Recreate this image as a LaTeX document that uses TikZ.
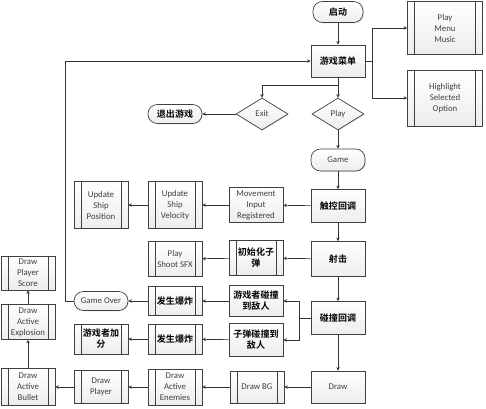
\documentclass[tikz,border=0pt]{standalone}
\usepackage{fontspec}
\setmainfont{Carlito}
\newfontfamily\cjk{Noto Sans CJK SC}[BoldFont={Noto Sans CJK SC Bold}]
\usetikzlibrary{shapes.geometric,arrows.meta,shadows}

\begin{document}
\begin{tikzpicture}[x=0.3mm,y=-0.3mm,
    font=\fontsize{7.5}{9.4}\selectfont,
    base/.style={draw=black!75,line width=0.6pt,top color=white,bottom color=gray!14,
      text=black!75,align=center,inner sep=1pt,minimum width=16.2mm,
      drop shadow={shadow xshift=0.7pt,shadow yshift=-0.7pt,fill=gray!45}},
    proc/.style={base,rectangle,minimum height=9.9mm},
    sub/.style={base,rectangle,minimum height=10.5mm,
      path picture={\draw[black!75,line width=0.6pt]
        ([xshift=2.1mm]path picture bounding box.north west) -- ([xshift=2.1mm]path picture bounding box.south west)
        ([xshift=-2.1mm]path picture bounding box.north east) -- ([xshift=-2.1mm]path picture bounding box.south east);}},
    term/.style={base,rectangle,rounded corners=2.8mm,minimum height=6.3mm},
    choice/.style={base,diamond,inner sep=0pt,minimum width=15.6mm,minimum height=9.6mm},
    cn/.style={font=\fontsize{7.7}{9.4}\selectfont\cjk\bfseries,text=black},
    arr/.style={draw=black!80,line width=0.6pt,-{Stealth[length=3pt,width=3pt]}}]
    \useasboundingbox (0,0) rectangle (486,408);

    \node[term,cn,minimum width=15mm] (start) at (338,12) {启动};
    \node[proc,cn,minimum height=9.6mm] (menu) at (338,61) {游戏菜单};
    \node[sub,minimum width=22.5mm,minimum height=15.9mm] (music) at (445,28) {Play\\Menu\\Music};
    \node[sub,minimum width=22.5mm,minimum height=16.8mm] (light) at (445,98) {Highlight\\Selected\\Option};
    \node[choice] (exit) at (262,114) {Exit};
    \node[choice] (play) at (338,114) {Play};
    \node[term,cn,minimum height=5.7mm] (quit) at (175,114) {退出游戏};
    \node[term,minimum height=6.6mm] (game) at (338,160) {Game};

    \node[proc,cn] (touch) at (338,206) {触控回调};
    \node[proc,minimum height=10.5mm] (move) at (256,205) {Movement\\Input\\Registered};
    \node[sub,minimum height=14.1mm] (velocity) at (175,205) {Update\\Ship\\Velocity};
    \node[sub,minimum height=14.1mm] (position) at (101,205) {Update\\Ship\\Position};

    \node[proc,cn,minimum height=10.5mm] (shoot) at (338,259) {射击};
    \node[sub,cn] (initbullet) at (256,258) {初始化子\\弹};
    \node[sub] (sfx) at (175,259) {Play\\Shoot SFX};

    \node[proc,cn] (collide) at (338,318) {碰撞回调};
    \node[proc,cn,minimum height=9.3mm] (hitplayer) at (256,301) {游戏者碰撞\\到敌人};
    \node[proc,cn] (hitenemy) at (256,340) {子弹碰撞到\\敌人};
    \node[sub,cn,minimum height=8.7mm] (boomA) at (175,301) {发生爆炸};
    \node[term,minimum height=5.7mm] (over) at (101,301) {Game Over};
    \node[sub,cn,minimum height=9mm] (boomB) at (175,339) {发生爆炸};
    \node[sub,cn,minimum height=9mm] (points) at (101,339) {游戏者加\\分};

    \node[proc,minimum height=9.6mm] (drawall) at (338,387) {Draw};
    \node[sub,minimum height=9.6mm] (bg) at (257,387) {Draw BG};
    \node[sub,minimum height=10.8mm] (enemies) at (175,387) {Draw\\Active\\Enemies};
    \node[sub,minimum height=9.9mm] (player) at (101,387) {Draw\\Player};
    \node[sub,minimum height=11.1mm] (drawbullet) at (28,387) {Draw\\Active\\Bullet};
    \node[sub] (explosion) at (28,322) {Draw\\Active\\Explosion};
    \node[sub,minimum height=10.2mm] (score) at (28,273) {Draw\\Player\\Score};

    \draw[arr] (start) -- (menu);
    \draw[arr] (menu.east) -- ++(7,0) |- (music);
    \draw[arr] (menu.east) -- ++(7,0) |- (light);
    \draw[arr] (menu.south) -- ++(0,8) -| (exit.north);
    \draw[arr] (menu) -- (play);
    \draw[arr] (exit) -- (quit);
    \draw[arr] (play) -- (game);
    \draw[arr] (game) -- (touch);
    \draw[arr] (touch) -- (move);
    \draw[arr] (move) -- (velocity);
    \draw[arr] (velocity) -- (position);
    \draw[arr] (touch) -- (shoot);
    \draw[arr] (shoot) -- (initbullet);
    \draw[arr] (initbullet) -- (sfx);
    \draw[arr] (shoot) -- (collide);
    \draw[arr] (collide.west) -- ++(-11,0) |- (hitplayer);
    \draw[arr] (collide.west) -- ++(-11,0) |- (hitenemy);
    \draw[arr] (hitplayer) -- (boomA);
    \draw[arr] (boomA) -- (over);
    \draw[arr] (over.west) -- ++(-8,0) |- (menu.west);
    \draw[arr] (hitenemy) -- (boomB);
    \draw[arr] (boomB) -- (points);
    \draw[arr] (collide) -- (drawall);
    \draw[arr] (drawall) -- (bg);
    \draw[arr] (bg) -- (enemies);
    \draw[arr] (enemies) -- (player);
    \draw[arr] (player) -- (drawbullet);
    \draw[arr] (drawbullet) -- (explosion);
    \draw[arr] (explosion) -- (score);
\end{tikzpicture}
\end{document}
